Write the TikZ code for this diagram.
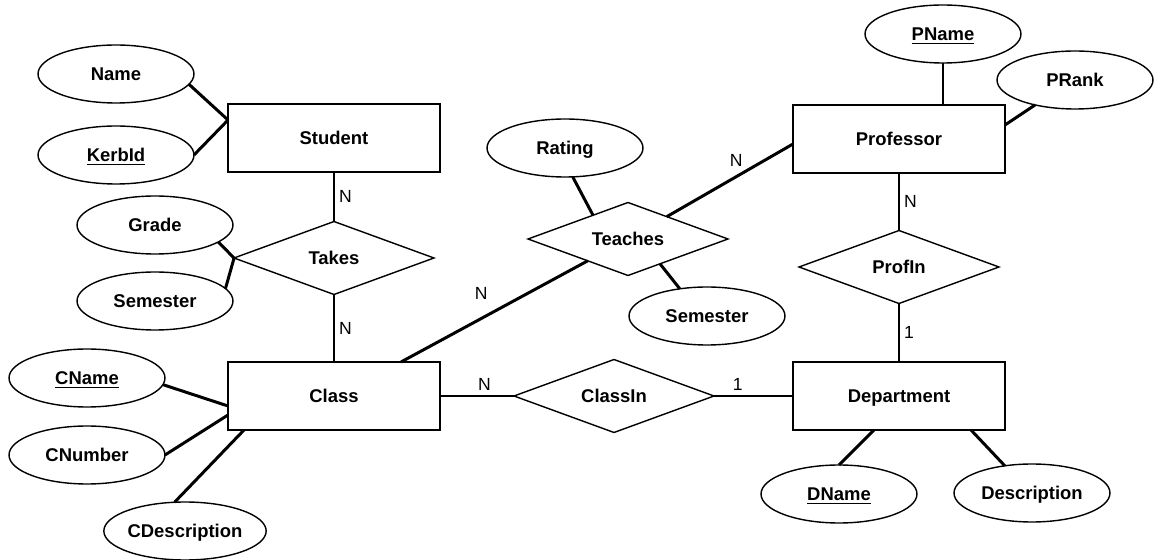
\documentclass[tikz,border=0pt]{standalone}
\usepackage{fontspec}
\setmainfont{Liberation Sans}
\usetikzlibrary{shapes.geometric, calc}

\begin{document}
\begin{tikzpicture}[
    x=0.02cm, y=-0.02cm, % one unit is one pixel of the sketch, y pointing down
    entity/.style={draw, line width=0.8pt, minimum width=4.24cm, minimum height=1.36cm, inner sep=0pt, outer sep=0pt, text depth=0pt, font=\fontsize{10.5}{12}\selectfont\bfseries}, % Style for entity boxes
    attribute/.style={draw, ellipse, line width=0.8pt, minimum width=3.12cm, minimum height=1.16cm, inner sep=0pt, outer sep=0pt, text depth=0pt, font=\fontsize{10.5}{12}\selectfont\bfseries}, % Style for attributes
    relation/.style={draw, diamond, aspect=2.7, line width=0.8pt, minimum width=4cm, minimum height=1.46cm, inner sep=0pt, outer sep=0pt, text depth=0pt, font=\fontsize{10.5}{12}\selectfont\bfseries}, % Style for relationships
    link/.style={line width=1.7pt}, % Style for connecting lines
    card/.style={font=\normalsize, inner sep=2pt} % Style for cardinality labels
]
    \useasboundingbox (0,0) rectangle (1154,560);

    % --- Entities ---
    \node[entity] (student) at (334,138) {Student};
    \node[entity] (professor) at (899,139) {Professor};
    \node[entity] (class) at (334,396) {Class};
    \node[entity] (department) at (899,396) {Department};

    % --- Relationships ---
    \node[relation] (takes) at (334,258) {Takes};
    \node[relation] (teaches) at (628,239) {Teaches};
    \node[relation] (profin) at (899,267) {ProfIn};
    \node[relation] (classin) at (614,396) {ClassIn};

    % --- Attributes ---
    \node[attribute] (name) at (116,74) {Name};
    \node[attribute] (kerbid) at (116,155) {\underline{KerbId}};
    \node[attribute] (grade) at (155,225) {Grade};
    \node[attribute] (semester) at (155,301) {Semester};
    \node[attribute] (cname) at (87,378) {\underline{CName}};
    \node[attribute] (cnumber) at (87,455) {CNumber};
    \node[attribute] (cdescription) at (185,531) {CDescription};
    \node[attribute] (rating) at (565,148) {Rating};
    \node[attribute] (tsemester) at (707,316) {Semester};
    \node[attribute] (pname) at (943,34) {\underline{PName}};
    \node[attribute] (prank) at (1075,80) {PRank};
    \node[attribute] (dname) at (839,494) {\underline{DName}};
    \node[attribute] (description) at (1032,493) {Description};

    % --- Student side ---
    \draw[link] (name.-8) -- ([yshift=0.36cm]student.west);
    \draw[link] (kerbid.east) -- ([yshift=0.36cm]student.west);
    \draw[link] (student.south) -- (takes.north) node[card, midway, right] {N};
    \draw[link] (grade.-15) -- (takes.west);
    \draw[link] (semester.10) -- ([shift={(0.1,-0.08)}]takes.west);
    \draw[link] (takes.south) -- (class.north) node[card, midway, right] {N};

    % --- Class side ---
    \draw[link] (cname.-5) -- ([yshift=-0.2cm]class.west);
    \draw[link] (cnumber.east) -- ([yshift=-0.38cm]class.west);
    \draw[link] (cdescription.110) -- ([xshift=0.32cm]class.south west);
    \draw[link] ([xshift=1.34cm]class.north) -- (teaches) node[card, pos=0.43, above=8pt] {N};
    \draw[link] (class.east) -- (classin.west) node[card, pos=0.6, above] {N};
    \draw[link] (classin.east) -- (department.west) node[card, pos=0.3, above] {1};

    % --- Teaches ---
    \draw[link] (rating.-75) -- ($(teaches.west)!0.65!(teaches.north)$);
    \draw[link] ($(teaches.south)!0.32!(teaches.east)$) -- (tsemester.135);
    \draw[link] (teaches) -- ([yshift=-0.1cm]professor.west) node[card, pos=0.55, above=3pt] {N};

    % --- Professor side ---
    \draw[link] (pname.south) -- (pname.south |- professor.north);
    \draw[link] (prank.-148) -- ([yshift=0.28cm]professor.east);
    \draw[link] (professor.south) -- (profin.north) node[card, midway, right] {N};
    \draw[link] (profin.south) -- (department.north) node[card, midway, right] {1};

    % --- Department side ---
    \draw[link] ([xshift=-0.5cm]department.south) -- (dname.north);
    \draw[link] ([xshift=1.44cm]department.south) -- (description.135);
\end{tikzpicture}
\end{document}
